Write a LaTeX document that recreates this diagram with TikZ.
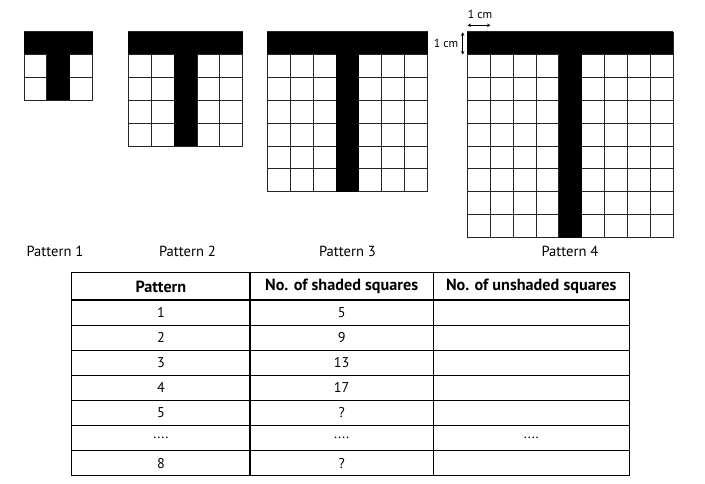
\documentclass[tikz,border=0pt]{standalone}
\usepackage{fontspec}
\setmainfont{PT Sans}
\usetikzlibrary{arrows.meta}
\begin{document}
\begin{tikzpicture}[x=1pt,y=-1pt,
  gridline/.style={draw=black!85,line width=1pt},
  lab/.style={font=\fontsize{14.6}{16}\selectfont,inner sep=0pt,anchor=center},
  small/.style={font=\fontsize{11.8}{13}\selectfont,inner sep=0pt},
  cell/.style={font=\fontsize{14.2}{16}\selectfont,inner sep=0pt,anchor=center},
  head/.style={font=\fontsize{16.2}{18}\selectfont\bfseries,inner sep=0pt,anchor=center},
  tline/.style={draw=black,line width=1.2pt},
  dim/.style={{Stealth[length=3.5pt,width=3.5pt]}-{Stealth[length=3.5pt,width=3.5pt]},line width=0.8pt}]
\useasboundingbox (0,0) rectangle (705,483);
\fill[white] (0,0) rectangle (705,483);
\def\c{22.9}
% patterns: x0 / n
\foreach \xo/\n in {24/3,128.3/5,267.3/7,467.3/9}{
  \pgfmathsetmacro{\w}{\n*\c}
  \pgfmathsetmacro{\mid}{(\n-1)/2*\c}
  \foreach \i in {0,...,\n}{
    \draw[gridline] ({\xo+\i*\c},31.5) -- ({\xo+\i*\c},{31.5+\w});
    \draw[gridline] (\xo,{31.5+\i*\c}) -- ({\xo+\w},{31.5+\i*\c});
  }
  \fill[black] (\xo,31.5) rectangle ({\xo+\w},{31.5+\c});
  \fill[black] ({\xo+\mid},31.5) rectangle ({\xo+\mid+\c},{31.5+\w});
}
% dimension marks
\coordinate (ha) at (467.5,25.3);
\coordinate (hb) at (490.5,25.3);
\coordinate (va) at (462.7,32.3);
\coordinate (vb) at (462.7,54.5);
\draw[dim] (ha) -- (hb);
\draw[dim] (va) -- (vb);
\node[small] (hl) at (480,14) {1 cm};
\node[small,anchor=east] (vl) at (458.5,43.5) {1 cm};
% pattern labels
\node[lab] (p1) at (55,251) {Pattern 1};
\node[lab] (p2) at (187.5,251) {Pattern 2};
\node[lab] (p3) at (347.5,251) {Pattern 3};
\node[lab] (p4) at (570,251) {Pattern 4};
% table
\def\xa{71.7}\def\xb{250}\def\xc{433.3}\def\xd{629.3}
\foreach \y in {300,325.1,350.2,375.3,400.4,425.5,450.6}{
  \draw[tline] (\xa,\y) -- (\xd,\y);
}
\draw[tline] (\xb,272.7) -- (\xb,475.7);
\draw[tline] (\xc,272.7) -- (\xc,475.7);
\draw[tline] (\xa,272.7) rectangle (\xd,475.7);
\node[head] (h1) at (160.9,286.5) {Pattern};
\node[head] (h2) at (341.7,286.5) {No. of shaded squares};
\node[head] (h3) at (531.3,286.5) {No. of unshaded squares};
\foreach \a/\b [count=\k] in {1/5,2/9,3/13,4/17,5/?,{....}/{....},8/?}{
  \pgfmathsetmacro{\yy}{300+(\k-0.5)*25.1}
  \node[cell] (a\k) at (160.9,\yy) {\a};
  \node[cell] (b\k) at (341.7,\yy) {\b};
}
\node[cell] (c6) at (531.3,{300+5.5*25.1}) {....};
\end{tikzpicture}
\end{document}
